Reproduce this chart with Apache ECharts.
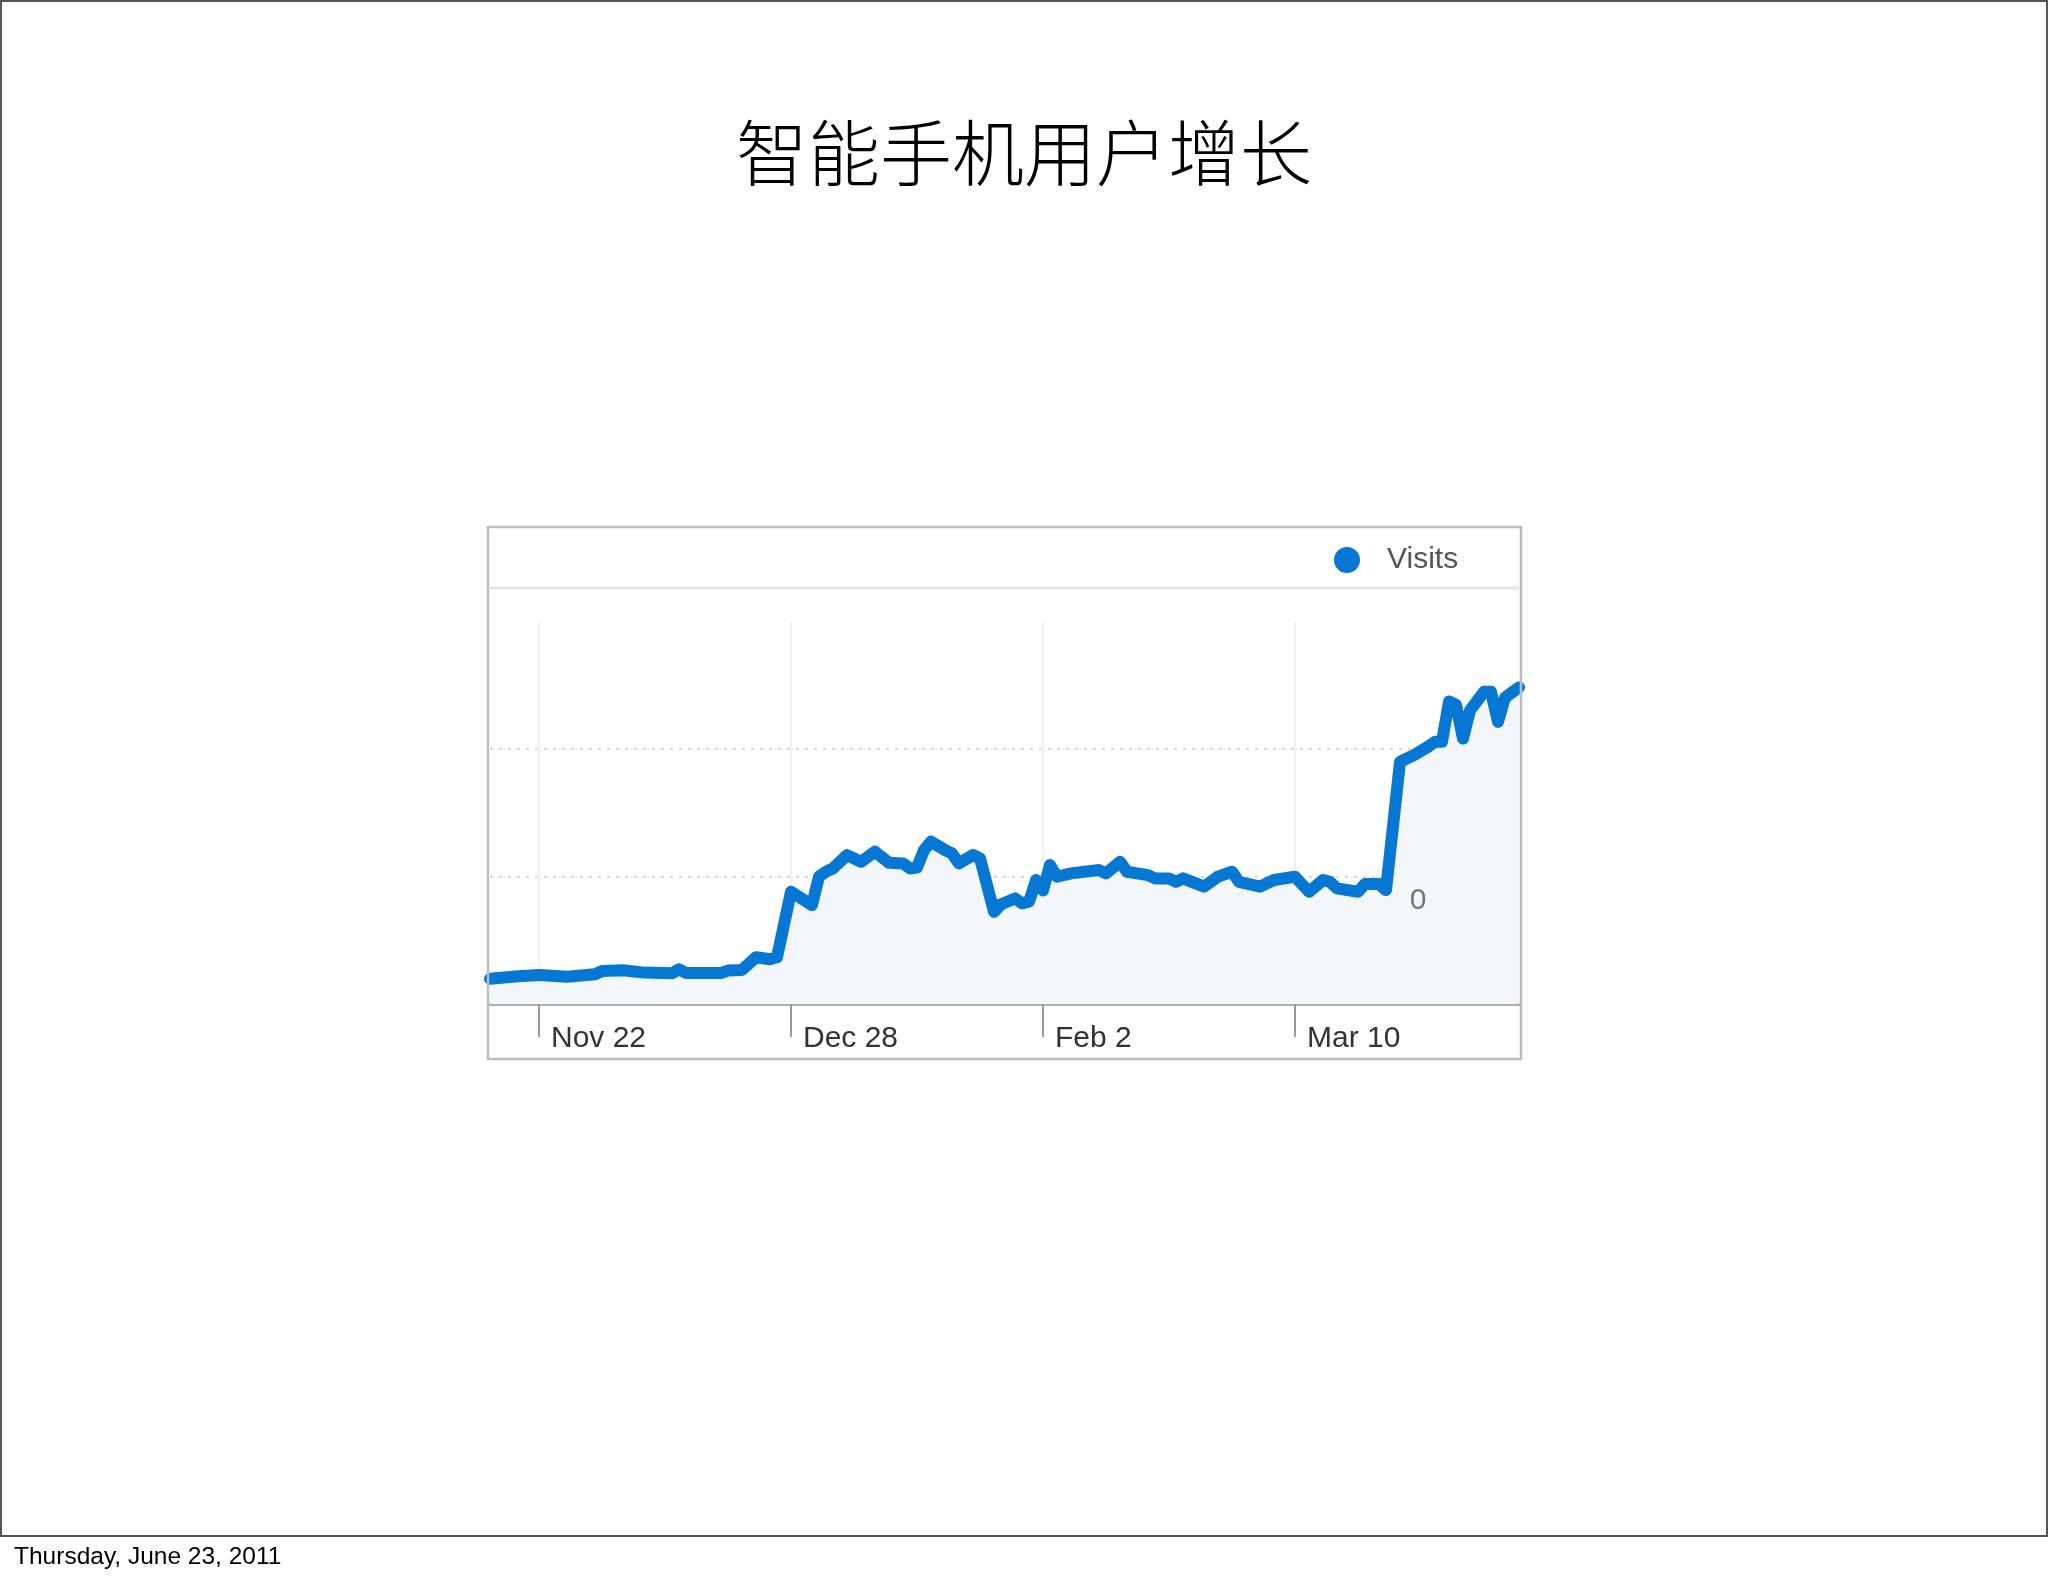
<!DOCTYPE html>
<html>
<head>
<meta charset="utf-8">
<script src="https://cdn.jsdelivr.net/npm/echarts@6/dist/echarts.min.js"></script>
<style>
html,body{margin:0;padding:0;background:#fff;}
#chart{width:2048px;height:1576px;}
</style>
</head>
<body>
<div id="chart"></div>
<script>
// ---- data ----
const titleText = '智能手机用户增长';
const footerText = 'Thursday, June 23, 2011';
const seriesName = 'Visits';
const startDate = '2010-11-15';
const endDate = '2011-04-11';
const tickDates = ['2010-11-22', '2010-12-28', '2011-02-02', '2011-03-10'];
const tickLabels = ['Nov 22', 'Dec 28', 'Feb 2', 'Mar 10'];
const yTicks = [0, 1000, 2000, 3000];
const zeroLabel = '0';

const visitDates = [
  '2010-11-15','2010-11-19','2010-11-22','2010-11-26','2010-11-30','2010-12-01','2010-12-04','2010-12-07',
  '2010-12-11','2010-12-12','2010-12-13','2010-12-18','2010-12-19','2010-12-21','2010-12-23','2010-12-25',
  '2010-12-26','2010-12-28','2010-12-31','2011-01-01','2011-01-02','2011-01-03','2011-01-05','2011-01-07',
  '2011-01-09','2011-01-11','2011-01-13','2011-01-14','2011-01-15','2011-01-16','2011-01-17','2011-01-19',
  '2011-01-20','2011-01-21','2011-01-23','2011-01-24','2011-01-26','2011-01-27','2011-01-29','2011-01-30',
  '2011-01-31','2011-02-01','2011-02-02','2011-02-03','2011-02-04','2011-02-06','2011-02-10','2011-02-11',
  '2011-02-13','2011-02-14','2011-02-17','2011-02-18','2011-02-20','2011-02-21','2011-02-22','2011-02-25',
  '2011-02-27','2011-03-01','2011-03-02','2011-03-03','2011-03-05','2011-03-07','2011-03-10','2011-03-12',
  '2011-03-14','2011-03-15','2011-03-16','2011-03-19','2011-03-20','2011-03-22','2011-03-23','2011-03-25',
  '2011-03-26','2011-03-27','2011-03-29','2011-03-30','2011-03-31','2011-04-01','2011-04-02','2011-04-03',
  '2011-04-04','2011-04-06','2011-04-07','2011-04-08','2011-04-09','2011-04-11'
];
const visitValues = [
  198,218,228,213,233,258,265,246,
  240,272,243,243,262,267,366,351,
  366,879,775,998,1037,1062,1166,1114,
  1193,1106,1101,1062,1068,1206,1271,1206,
  1179,1101,1167,1141,722,781,827,789,
  801,971,889,1089,997,1023,1049,1023,
  1114,1036,1010,984,984,957,984,919,
  997,1036,957,944,919,971,997,879,
  971,957,906,879,940,940,892,1896,
  1924,1950,2015,2054,2054,2370,2345,2079,
  2300,2445,2445,2210,2400,2480
];

// ---- helpers ----
const DAY = 86400000;
const t0 = Date.parse(startDate);
const dayIndex = d => Math.round((Date.parse(d) - t0) / DAY);
const tickDays = tickDates.map(dayIndex);
const labelByDay = {};
tickDays.forEach((d, i) => { labelByDay[d] = tickLabels[i]; });

const FONT = '"Liberation Sans", Arial, Helvetica, sans-serif';
const BLUE = '#0777d4';

const chart = echarts.init(document.getElementById('chart'));
chart.setOption({
  backgroundColor: '#ffffff',
  animation: false,
  title: {
    text: titleText,
    left: 'center',
    top: 112,
    textStyle: { fontFamily: '"Noto Sans CJK SC", sans-serif', fontSize: 72, fontWeight: 300, color: '#000' }
  },
  legend: {
    data: [seriesName],
    left: 1329,
    top: 540,
    icon: 'circle',
    itemWidth: 26,
    itemHeight: 26,
    textStyle: { fontFamily: FONT, fontSize: 30, color: '#555', padding: [6, 0, 0, 22] }
  },
  grid: { left: 490, width: 1029, top: 621, height: 383, containLabel: false },
  xAxis: {
    type: 'value',
    min: dayIndex(startDate),
    max: dayIndex(endDate),
    axisLine: { show: true, lineStyle: { color: '#b0b0b0', width: 3 } },
    axisTick: { show: true, customValues: tickDays, length: 33, inside: false, lineStyle: { color: '#9a9a9a', width: 2 } },
    axisLabel: {
      show: true,
      customValues: tickDays,
      formatter: v => labelByDay[Math.round(v)] || '',
      align: 'left',
      verticalAlign: 'middle',
      margin: 35,
      padding: [0, 0, 0, 12],
      fontFamily: FONT,
      fontSize: 30,
      color: '#333'
    },
    splitLine: { show: true, lineStyle: { color: '#ececec', width: 1.5 } }
  },
  yAxis: {
    type: 'value',
    min: yTicks[0],
    max: yTicks[yTicks.length - 1],
    interval: yTicks[1] - yTicks[0],
    axisLine: { show: false },
    axisTick: { show: false },
    axisLabel: { show: false },
    splitLine: { show: true, lineStyle: { color: ['rgba(0,0,0,0)', '#d8d8d8', '#d8d8d8', 'rgba(0,0,0,0)'], width: 2, type: [3, 6] } }
  },
  series: [{
    name: seriesName,
    type: 'line',
    data: visitDates.map((d, i) => [dayIndex(d), visitValues[i]]),
    showSymbol: false,
    symbol: 'none',
    itemStyle: { color: BLUE },
    lineStyle: { color: BLUE, width: 12, cap: 'round', join: 'round' },
    areaStyle: { color: '#f3f7fc', opacity: 1 },
    z: 3
  }],
  graphic: [
    { type: 'rect', silent: true, z: 100,
      shape: { x: 1, y: 1, width: 2046, height: 1535 },
      style: { fill: 'none', stroke: '#555', lineWidth: 2 } },
    { type: 'rect', silent: true, z: 100,
      shape: { x: 488, y: 527, width: 1033, height: 532 },
      style: { fill: 'none', stroke: '#bdbdbd', lineWidth: 2.5 } },
    { type: 'line', silent: true, z: 100,
      shape: { x1: 490, y1: 588, x2: 1520, y2: 588 },
      style: { stroke: '#e6e6e6', lineWidth: 3 } },
    { type: 'text', silent: true, z: 100, x: 1418, y: 901,
      style: { text: zeroLabel, fontFamily: FONT, fontSize: 30, fill: '#777', align: 'center', verticalAlign: 'middle' } },
    { type: 'text', silent: true, z: 100, x: 14, y: 1557,
      style: { text: footerText, fontFamily: FONT, fontSize: 24.5, fill: '#000', align: 'left', verticalAlign: 'middle' } }
  ]
});
</script>
</body>
</html>
